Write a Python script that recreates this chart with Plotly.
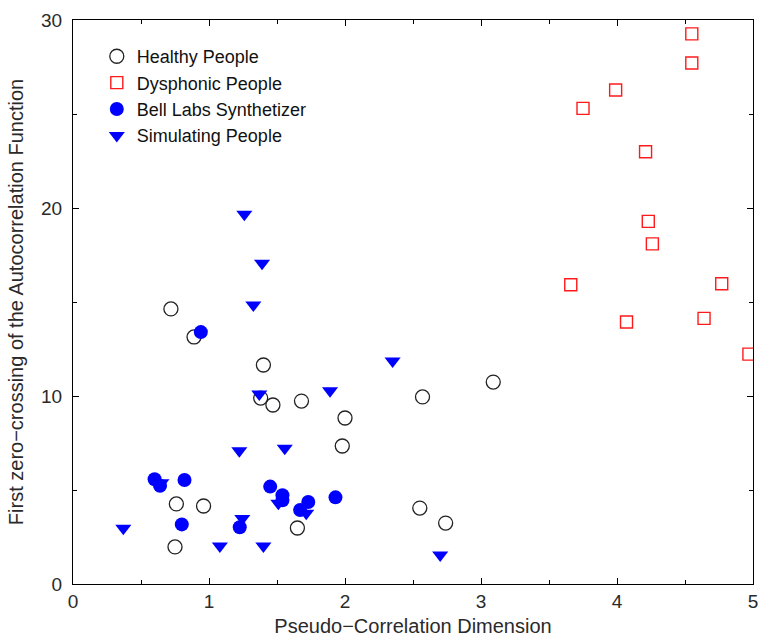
import plotly.graph_objects as go

# Healthy people (open black circles)
healthy_x = [0.72, 0.89, 1.40, 1.38, 1.47, 1.68, 2.00, 1.98, 2.57, 3.09, 0.76, 0.96, 0.75, 1.65, 2.55, 2.74]
healthy_y = [14.63, 13.14, 11.65, 9.89, 9.52, 9.73, 8.83, 7.34, 9.95, 10.74, 4.26, 4.15, 1.97, 2.98, 4.04, 3.24]

# Dysphonic people (open red squares)
dysphonic_x = [4.55, 4.55, 3.99, 3.75, 4.21, 4.23, 4.26, 3.66, 4.77, 4.07, 4.64, 4.97]
dysphonic_y = [29.26, 27.71, 26.28, 25.30, 22.99, 19.29, 18.09, 15.92, 15.97, 13.94, 14.13, 12.23]

# Bell Labs synthetizer (filled blue circles)
bell_x = [0.94, 0.60, 0.64, 0.82, 0.80, 1.226, 1.45, 1.54, 1.54, 1.67, 1.73, 1.93]
bell_y = [13.40, 5.57, 5.23, 5.53, 3.17, 3.02, 5.18, 4.72, 4.45, 3.94, 4.36, 4.61]

# Simulating people (filled blue down-triangles)
sim_x = [1.26, 1.39, 1.326, 1.37, 1.89, 2.35, 1.223, 1.557, 0.37, 1.08, 1.40, 1.245, 2.70, 1.51, 1.715, 0.65]
sim_y = [19.67, 17.06, 14.84, 10.10, 10.28, 11.86, 7.09, 7.22, 2.96, 2.02, 2.02, 3.49, 1.54, 4.29, 3.76, 5.39]

font_family = "Liberation Sans, Arial, Helvetica, sans-serif"
text_color = "#2a2a2a"

fig = go.Figure()

fig.add_trace(go.Scatter(
    x=healthy_x, y=healthy_y, mode="markers", name="Healthy People",
    marker=dict(symbol="circle-open", size=14, color="#222222", line=dict(width=1.3)),
))
fig.add_trace(go.Scatter(
    x=dysphonic_x, y=dysphonic_y, mode="markers", name="Dysphonic People",
    marker=dict(symbol="square-open", size=12, color="#ff1a1a", line=dict(width=1.4)),
))
fig.add_trace(go.Scatter(
    x=sim_x, y=sim_y, mode="markers", name="Simulating People",
    marker=dict(symbol="triangle-down", size=14, color="#0000ff", line=dict(width=0)),
))
fig.add_trace(go.Scatter(
    x=bell_x, y=bell_y, mode="markers", name="Bell Labs Synthetizer",
    marker=dict(symbol="circle", size=14, color="#0000ff", line=dict(width=0)),
))

axis_common = dict(
    showgrid=False, zeroline=False, showline=True, mirror="ticks",
    linecolor="#000000", linewidth=1.2,
    ticks="inside", ticklen=6, tickwidth=1, tickcolor="#000000",
    tickfont=dict(family=font_family, size=19, color=text_color),
)

fig.update_xaxes(
    range=[0, 5], tick0=0, dtick=1,
    minor=dict(ticks="inside", ticklen=4, dtick=0.5, tickcolor="#000000", showgrid=False),
    title=dict(text="Pseudo\u2212Correlation Dimension",
               font=dict(family=font_family, size=20, color=text_color), standoff=9),
    **axis_common,
)
fig.update_yaxes(
    range=[0, 30], tick0=0, dtick=10,
    ticklabelstandoff=6,
    minor=dict(ticks="inside", ticklen=4, dtick=5, tickcolor="#000000", showgrid=False),
    title=dict(text="First zero\u2212crossing of the Autocorrelation Function",
               font=dict(family=font_family, size=20, color=text_color), standoff=11),
    **axis_common,
)

fig.update_layout(
    width=760, height=637,
    margin=dict(l=73, r=7, t=20, b=53, autoexpand=False),
    paper_bgcolor="white", plot_bgcolor="white",
    font=dict(family=font_family, color=text_color),
    legend=dict(
        x=0.035, y=0.968, xanchor="left", yanchor="top",
        bgcolor="rgba(0,0,0,0)", borderwidth=0,
        font=dict(family=font_family, size=18, color="#111111"),
        traceorder="normal", itemsizing="trace", itemwidth=30,
        tracegroupgap=0,
    ),
)

# Legend order: Healthy, Dysphonic, Bell Labs, Simulating (circles drawn over triangles)
fig.data[0].legendrank = 1
fig.data[1].legendrank = 2
fig.data[3].legendrank = 3
fig.data[2].legendrank = 4

fig.write_html("out.html")
